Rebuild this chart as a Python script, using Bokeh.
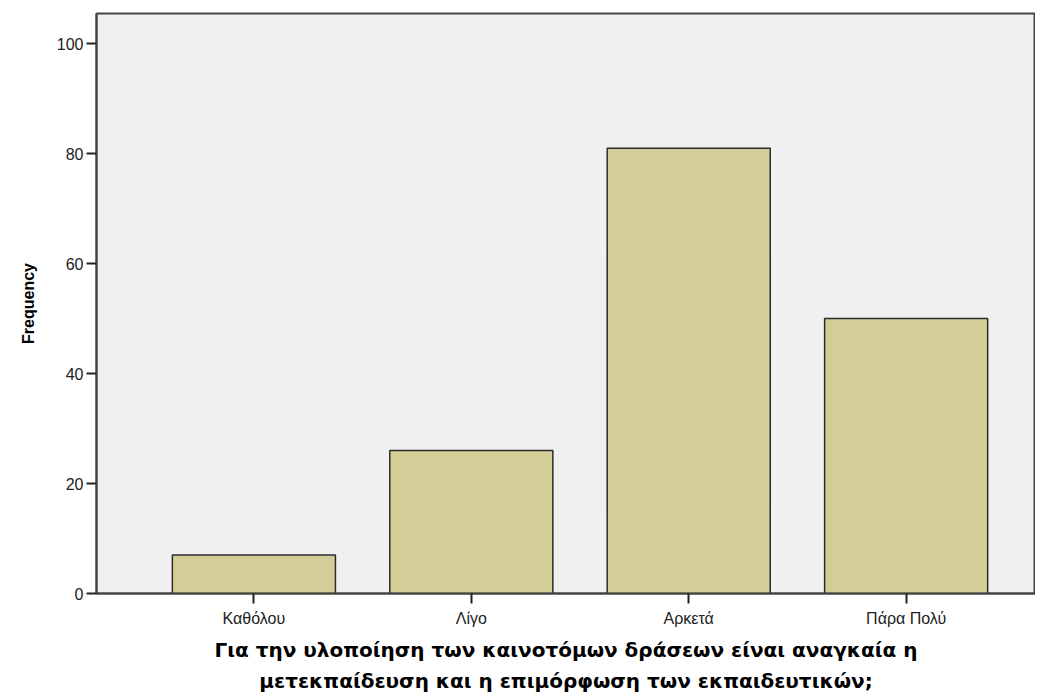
from bokeh.plotting import figure
from bokeh.models import FixedTicker, Range1d, Title, ColumnDataSource
from bokeh.embed import file_html
from bokeh.resources import INLINE

categories = ["Καθόλου", "Λίγο", "Αρκετά", "Πάρα Πολύ"]
frequency = [7, 26, 81, 50]
y_ticks = [0, 20, 40, 60, 80, 100]
x_title_line1 = "Για την υλοποίηση των καινοτόμων δράσεων είναι αναγκαία η"
x_title_line2 = "μετεκπαίδευση και η επιμόρφωση των εκπαιδευτικών;"

positions = [i + 1 for i in range(len(categories))]
src = ColumnDataSource(dict(x=positions, top=frequency, cat=categories))

FONT = "Liberation Sans"
TFONT = "DejaVu Sans"

p = figure(width=1035, height=695, output_backend="svg", toolbar_location=None,
           x_range=Range1d(0.276, 4.595), y_range=Range1d(0, 105.5),
           min_border_left=96, min_border_right=0, min_border_top=13, min_border_bottom=0)
p.background_fill_color = "#F0F0F0"
p.border_fill_color = "white"
p.outline_line_color = "#444444"
p.outline_line_width = 2
p.grid.visible = False

p.vbar(x="x", top="top", width=0.75, bottom=0, source=src,
       fill_color="#D3CE97", line_color="#2b2b2b", line_width=1.5)

# y axis
ya = p.yaxis[0]
ya.ticker = FixedTicker(ticks=y_ticks)
ya.minor_tick_line_color = None
ya.major_tick_out = 10
ya.major_tick_in = 0
ya.major_tick_line_color = "#222222"
ya.major_tick_line_width = 2
ya.axis_line_color = "#444444"
ya.axis_line_width = 2
ya.major_label_text_font = FONT
ya.major_label_text_font_size = "16px"
ya.major_label_text_color = "#222222"
ya.major_label_standoff = 3
ya.axis_label = "Frequency"
ya.axis_label_text_font = FONT
ya.axis_label_text_font_size = "16px"
ya.axis_label_text_font_style = "bold"
ya.axis_label_text_color = "black"
ya.axis_label_standoff = 17

# x axis
xa = p.xaxis[0]
xa.ticker = FixedTicker(ticks=positions)
xa.major_label_overrides = {pos: c for pos, c in zip(positions, categories)}
xa.minor_tick_line_color = None
xa.major_tick_out = 10
xa.major_tick_in = 0
xa.major_tick_line_color = "#222222"
xa.major_tick_line_width = 2
xa.axis_line_color = "#444444"
xa.axis_line_width = 2
xa.major_label_text_font = FONT
xa.major_label_text_font_size = "16px"
xa.major_label_text_color = "#222222"
xa.major_label_standoff = 6
xa.axis_label_standoff = 0

t1 = Title(text=x_title_line1, align="center", vertical_align="bottom", text_font=TFONT,
           text_font_size="20px", text_font_style="bold", text_color="black",
           standoff=12)
t2 = Title(text=x_title_line2, align="center", vertical_align="top", text_font=TFONT,
           text_font_size="20px", text_font_style="bold", text_color="black",
           standoff=2)
p.add_layout(t1, "below")
p.add_layout(t2, "below")

open("out.html", "w").write(file_html(p, INLINE))
